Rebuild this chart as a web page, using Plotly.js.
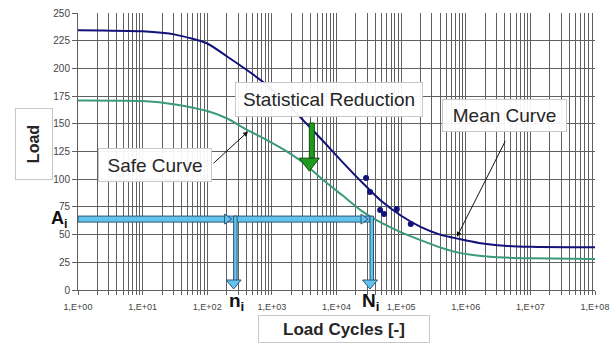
<!DOCTYPE html>
<html>
<head>
<meta charset="utf-8">
<script src="https://cdn.plot.ly/plotly-3.0.1.min.js"></script>
<style>html,body{margin:0;padding:0;background:#fff;}#chart{width:613px;height:347px;}</style>
</head>
<body>
<div id="chart"></div>
<script>
// ---- data ----
const cyclesCurve = [1, 10, 32, 100, 200, 400, 800, 1600, 3200, 6300, 12600, 25000, 50000, 100000, 200000, 400000, 800000, 1600000, 4000000, 10000000, 100000000];
const meanLoad = [234.5, 233.5, 230.5, 222.5, 211, 199, 186, 170, 152, 134, 115, 97, 80, 67, 57, 50, 46, 42.5, 40, 39, 38.5];
const safeLoad = [171, 170.5, 167.5, 161.5, 155, 145, 136, 126, 114, 99, 85, 71, 60.5, 52, 45, 38.5, 33.5, 31, 29.3, 28.6, 28];
const testCycles = [28700, 33100, 47300, 54500, 85700, 141000];
const testLoad = [101, 88.4, 72.2, 68.6, 73.1, 59.6];
const xTickLabels = ['1,E+00', '1,E+01', '1,E+02', '1,E+03', '1,E+04', '1,E+05', '1,E+06', '1,E+07', '1,E+08'];
const yTicks = [0, 25, 50, 75, 100, 125, 150, 175, 200, 225, 250];
const Ai = 64;        // load level
const ni = 256;       // cycles on safe curve
const Ni = 33000;     // cycles on mean curve
const reductionAt = 3800;   // statistical reduction arrow position
const reductionTop = 150.7, reductionHead = 119;

// ---- ticks ----
const tickvals = [], ticktext = [];
for (let k = 0; k < xTickLabels.length; k++) {
  const base = Math.pow(10, k);
  const maxD = (k === xTickLabels.length - 1) ? 1 : 9;
  for (let d = 1; d <= maxD; d++) {
    tickvals.push(d * base);
    ticktext.push(d === 1 ? xTickLabels[k] : '');
  }
}

const FONT = 'Liberation Sans, Arial, sans-serif';
const blueFill = '#62c3ee', blueLine = '#2b5675';
const GRID = '#606060';

const traces = [
  {x: cyclesCurve, y: meanLoad, mode: 'lines', line: {color: '#12127a', width: 2, shape: 'spline', smoothing: 0.6}, hoverinfo: 'skip'},
  {x: cyclesCurve, y: safeLoad, mode: 'lines', line: {color: '#3a9a7a', width: 2, shape: 'spline', smoothing: 0.6}, hoverinfo: 'skip'},
  {x: testCycles, y: testLoad, mode: 'markers', marker: {color: '#12127a', size: 6}, hoverinfo: 'skip'}
];

const shapes = [
  // horizontal shaft at Ai from left edge to Ni
  {type: 'rect', layer: 'above', xref: 'x', x0: 1, x1: Ni, ysizemode: 'pixel', yref: 'y', yanchor: Ai, y0: -3, y1: 3, fillcolor: blueFill, line: {color: blueLine, width: 1}},
  // vertical shaft at ni
  {type: 'rect', layer: 'above', xsizemode: 'pixel', xref: 'x', xanchor: ni, x0: -3.5, x1: 3.5, yref: 'y', y0: 8, y1: Ai + 2.7, fillcolor: blueFill, line: {color: blueLine, width: 1}},
  // vertical shaft at Ni
  {type: 'rect', layer: 'above', xsizemode: 'pixel', xref: 'x', xanchor: Ni, x0: -3.5, x1: 3.5, yref: 'y', y0: 8, y1: Ai + 2.7, fillcolor: blueFill, line: {color: blueLine, width: 1}},
  // arrow heads pointing right at ni and Ni
  {type: 'path', layer: 'above', xsizemode: 'pixel', ysizemode: 'pixel', xref: 'x', yref: 'y', xanchor: ni, yanchor: Ai, path: 'M -9,5 L -2,0 L -9,-5 Z', fillcolor: blueFill, line: {color: blueLine, width: 1}},
  {type: 'path', layer: 'above', xsizemode: 'pixel', ysizemode: 'pixel', xref: 'x', yref: 'y', xanchor: Ni, yanchor: Ai, path: 'M -9,5 L -2,0 L -9,-5 Z', fillcolor: blueFill, line: {color: blueLine, width: 1}},
  // arrow heads pointing down to axis
  {type: 'path', layer: 'above', xsizemode: 'pixel', ysizemode: 'pixel', xref: 'x', yref: 'y', xanchor: ni, yanchor: 0, path: 'M -7.5,10 L 7.5,10 L 0,1 Z', fillcolor: blueFill, line: {color: blueLine, width: 1}},
  {type: 'path', layer: 'above', xsizemode: 'pixel', ysizemode: 'pixel', xref: 'x', yref: 'y', xanchor: Ni, yanchor: 0, path: 'M -7.5,10 L 7.5,10 L 0,1 Z', fillcolor: blueFill, line: {color: blueLine, width: 1}},
  // green statistical reduction arrow
  {type: 'rect', layer: 'above', xsizemode: 'pixel', xref: 'x', xanchor: reductionAt, x0: -5, x1: 5, yref: 'y', y0: reductionHead, y1: reductionTop, fillcolor: '#1e9a1e', line: {color: '#0c4f0c', width: 1}},
  {type: 'path', layer: 'above', xsizemode: 'pixel', ysizemode: 'pixel', xref: 'x', yref: 'y', xanchor: reductionAt, yanchor: reductionHead, path: 'M -10,0 L 10,0 L 0,-13 Z', fillcolor: '#1e9a1e', line: {color: '#0c4f0c', width: 1}}
];

function box(text, x, y, w, h, size, bold, angle) {
  return {xref: 'paper', yref: 'paper', x: x, y: y, text: bold ? '<b>' + text + '</b>' : text, showarrow: false,
    font: {family: FONT, size: size, color: '#262626'}, bgcolor: 'rgba(255,255,255,0.93)', bordercolor: '#c8c8c8', borderwidth: 1, borderpad: 0,
    width: w, height: h, textangle: angle || 0, xanchor: 'center', yanchor: 'middle'};
}

const annotations = [
  box('Statistical Reduction', 0.4855, 0.6877, 186, 33, 19, false),
  box('Mean Curve', 0.825, 0.630, 123, 31, 19, false),
  box('Safe Curve', 0.149, 0.451, 112, 32, 19, false),
  box('Load Cycles [-]', 0.5145, -0.1408, 170, 26, 17, true),
  box('Load', -0.0851, 0.527, 70, 36, 16, true, -90),
  // pointer arrows
  {xref: 'x', yref: 'y', x: Math.log10(428), y: 143, ax: -36, ay: 33, text: '', showarrow: true, arrowhead: 2, arrowsize: 1, arrowwidth: 1, arrowcolor: '#111'},
  {xref: 'x', yref: 'y', x: Math.log10(730000), y: 48, ax: 49, ay: -97, text: '', showarrow: true, arrowhead: 2, arrowsize: 1, arrowwidth: 1, arrowcolor: '#111'},
  // symbols
  {xref: 'paper', yref: 'paper', x: -0.057, y: 0.204, text: '<b>A<sub>i</sub></b>', showarrow: false, font: {family: FONT, size: 18, color: '#111'}},
  {xref: 'paper', yref: 'paper', x: 0.289, y: -0.094, text: '<b>n<sub>i</sub></b>', showarrow: false, font: {family: FONT, size: 19, color: '#111'}},
  {xref: 'paper', yref: 'paper', x: 0.565, y: -0.094, text: '<b>N<sub>i</sub></b>', showarrow: false, font: {family: FONT, size: 19, color: '#111'}}
];

const layout = {
  width: 613, height: 347,
  margin: {l: 78, r: 18, t: 13, b: 57},
  paper_bgcolor: '#ffffff', plot_bgcolor: '#ffffff',
  showlegend: false,
  font: {family: FONT},
  xaxis: {type: 'log', range: [0, 8], tickvals: tickvals, ticktext: ticktext, tickangle: 0,
    showgrid: true, gridcolor: GRID, gridwidth: 1, showline: true, linecolor: GRID, linewidth: 1,
    ticks: 'outside', ticklen: 4, tickcolor: GRID, ticklabelstandoff: 4, tickfont: {size: 9, color: '#444', family: FONT}, zeroline: false, fixedrange: true},
  yaxis: {range: [0, 250], tickvals: yTicks, showgrid: true, gridcolor: GRID, gridwidth: 1,
    showline: true, linecolor: GRID, linewidth: 1, ticks: 'outside', ticklen: 5, tickcolor: GRID,
    tickfont: {size: 10, color: '#444', family: FONT}, zeroline: false, fixedrange: true},
  shapes: shapes,
  annotations: annotations
};

Plotly.newPlot('chart', traces, layout, {staticPlot: true, displayModeBar: false});
</script>
</body>
</html>
